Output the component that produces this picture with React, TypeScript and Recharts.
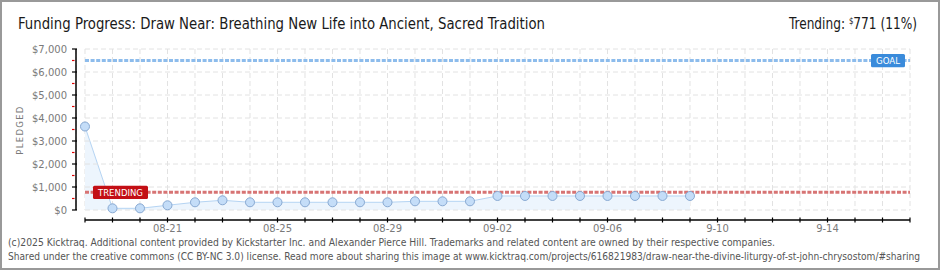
import React from "react";
import { ComposedChart, Area, XAxis, YAxis, CartesianGrid, ReferenceLine } from "recharts";

// daily snapshots, 08-18 .. 09-09
const dates = [
  "08-18", "08-19", "08-20", "08-21", "08-22", "08-23", "08-24", "08-25",
  "08-26", "08-27", "08-28", "08-29", "08-30", "08-31", "09-01", "09-02",
  "09-03", "09-04", "09-05", "09-06", "09-07", "09-08", "09-09",
];
const pledged = [
  3630, 73, 73, 205, 335, 422, 335, 335, 335, 335, 335, 335,
  378, 378, 378, 610, 610, 610, 610, 610, 610, 610, 610,
];
const goal = 6500;
const trending = 771;

const yTicks = [0, 500, 1000, 1500, 2000, 2500, 3000, 3500, 4000, 4500, 5000, 5500, 6000, 6500, 7000];
const labelDays = [3, 7, 11, 15, 19, 23, 27];
const labelTexts = ["08-21", "08-25", "08-29", "09-02", "09-06", "9-10", "9-14"];
const lastDay = 30;

const data = pledged.map((v, i) => ({ day: i, date: dates[i], pledged: v }));
const dayTicks = Array.from({ length: lastDay + 1 }, (_, i) => i);

// axis line sits ~10px under the $0 line
const xAxisLineValue = -435;

const axisFont = "'DejaVu Sans', Verdana, sans-serif";
const narrowFont = "'DejaVu Sans Condensed', 'Liberation Sans Narrow', sans-serif";

const fmtMoney = (v: number) => `$${v.toLocaleString("en-US")}`;

const YTick = (props: any) => {
  const { x, y, payload } = props;
  const v = payload.value as number;
  if (v % 1000 !== 0) {
    return <line x1={x - 4} x2={x - 1.5} y1={y} y2={y} stroke="#e00000" strokeWidth={1.2} />;
  }
  return (
    <g>
      <line x1={x - 4} x2={x + 1} y1={y} y2={y} stroke="#000" strokeWidth={1.2} />
      <text x={x - 9} y={y + 3.6} textAnchor="end" fill="#7a7a7a" fontSize={10} fontFamily={axisFont}>
        {fmtMoney(v)}
      </text>
    </g>
  );
};

const XTick = (props: any) => {
  const { x, y, payload } = props;
  const idx = labelDays.indexOf(payload.value);
  return (
    <g>
      <line x1={x} x2={x} y1={y + 7.5} y2={y + 12.5} stroke="#000" strokeWidth={1.2} />
      {idx >= 0 && (
        <text x={x} y={y + 22} textAnchor="middle" fill="#7a7a7a" fontSize={10} fontFamily={axisFont}>
          {labelTexts[idx]}
        </text>
      )}
    </g>
  );
};

const tag = (text: string, color: string, side: "start" | "end", w: number) => (props: any) => {
  const vb = props.viewBox || {};
  const bx = side === "start" ? vb.x + 8 : vb.x + vb.width - 5 - w;
  const by = vb.y - 6.6;
  return (
    <g>
      <rect x={bx} y={by} width={w} height={13.4} rx={1.5} fill={color} />
      <text
        x={bx + w / 2}
        y={by + 10.2}
        textAnchor="middle"
        fill="#fff"
        fontSize={9}
        fontFamily={axisFont}
        textLength={w - 10}
        lengthAdjust="spacingAndGlyphs"
      >
        {text}
      </text>
    </g>
  );
};

export default function App() {
  return (
    <div style={{ position: "relative", width: 940, height: 270, background: "#fff", overflow: "hidden" }}>
      <style>{"body{margin:0}"}</style>
      <ComposedChart
        width={940}
        height={270}
        data={data}
        margin={{ top: 49, right: 30, bottom: 40, left: 16 }}
      >
        <CartesianGrid vertical horizontal={false} stroke="#e2e2e2" strokeDasharray="5 3" />
        {yTicks
          .filter((v) => v % 1000 === 0)
          .map((v) => (
            <ReferenceLine
              key={`g${v}`}
              segment={[{ x: 0, y: v }, { x: lastDay, y: v }]}
              stroke="#e2e2e2"
              strokeDasharray="5 3"
            />
          ))}
        <XAxis
          dataKey="day"
          type="number"
          domain={[-0.327, lastDay]}
          ticks={dayTicks}
          interval={0}
          axisLine={false}
          tickLine={false}
          tickSize={0}
          tickMargin={0}
          height={20}
          tick={<XTick />}
        />
        <YAxis
          type="number"
          domain={[0, 7000]}
          ticks={yTicks}
          interval={0}
          width={60}
          axisLine={{ stroke: "#000", strokeWidth: 1.5 }}
          tickLine={false}
          tickSize={0}
          tickMargin={0}
          tick={<YTick />}
        />
        <Area
          dataKey="pledged"
          type="linear"
          stroke="#b5d4f3"
          strokeWidth={1}
          fill="#edf5fd"
          fillOpacity={1}
          dot={{ r: 4.5, fill: "#c4ddf8", stroke: "#88a9d2", strokeWidth: 1, fillOpacity: 1 }}
          activeDot={false}
          isAnimationActive={false}
        />
        <ReferenceLine
          segment={[{ x: 0, y: goal }, { x: lastDay, y: goal }]}
          stroke="#8dbcec"
          strokeWidth={3}
          strokeDasharray="4 1.6"
          label={tag("GOAL", "#3a8bdb", "end", 34)}
        />
        <ReferenceLine
          segment={[{ x: 0, y: trending }, { x: lastDay, y: trending }]}
          stroke="#d77474"
          strokeWidth={3}
          strokeDasharray="4 1.6"
          label={tag("TRENDING", "#c30f15", "start", 55)}
        />
        <ReferenceLine
          segment={[{ x: 0, y: xAxisLineValue }, { x: lastDay, y: xAxisLineValue }]}
          stroke="#000"
          strokeWidth={1.6}
          ifOverflow="visible"
        />
      </ComposedChart>

      <svg
        width={940}
        height={270}
        style={{ position: "absolute", left: 0, top: 0, pointerEvents: "none" }}
      >
        <text
          x={18}
          y={29.3}
          fontSize={15.5}
          fontFamily={narrowFont}
          fill="#1a1a1a"
          textLength={527}
          lengthAdjust="spacingAndGlyphs"
        >
          Funding Progress: Draw Near: Breathing New Life into Ancient, Sacred Tradition
        </text>
        <text
          x={789}
          y={29.3}
          fontSize={15.5}
          fontFamily={narrowFont}
          fill="#1a1a1a"
          textLength={128}
          lengthAdjust="spacingAndGlyphs"
        >
          Trending:{" "}
          <tspan fontSize={9} dy={-5}>
            $
          </tspan>
          <tspan dy={5}>771 (11%)</tspan>
        </text>
        <text
          x={20}
          y={130}
          transform="rotate(-90 20 130)"
          textAnchor="middle"
          dominantBaseline="central"
          fontSize={8.5}
          letterSpacing={1.3}
          fontFamily={axisFont}
          fill="#7a7a7a"
        >
          PLEDGED
        </text>
        <text x={8} y={246} fontSize={11} fontFamily={narrowFont} fill="#555" textLength={767} lengthAdjust="spacingAndGlyphs">
          (c)2025 Kicktraq. Additional content provided by Kickstarter Inc. and Alexander Pierce Hill. Trademarks and related content are owned by their respective companies.
        </text>
        <text x={8} y={260} fontSize={9.6} fontFamily={narrowFont} fill="#555" textLength={912} lengthAdjust="spacingAndGlyphs">
          Shared under the creative commons (CC BY-NC 3.0) license. Read more about sharing this image at www.kicktraq.com/projects/616821983/draw-near-the-divine-liturgy-of-st-john-chrysostom/#sharing
        </text>
      </svg>
      <div
        style={{
          position: "absolute",
          left: 0,
          top: 0,
          width: 940,
          height: 270,
          boxSizing: "border-box",
          border: "2px solid #999",
          pointerEvents: "none",
        }}
      />
    </div>
  );
}
